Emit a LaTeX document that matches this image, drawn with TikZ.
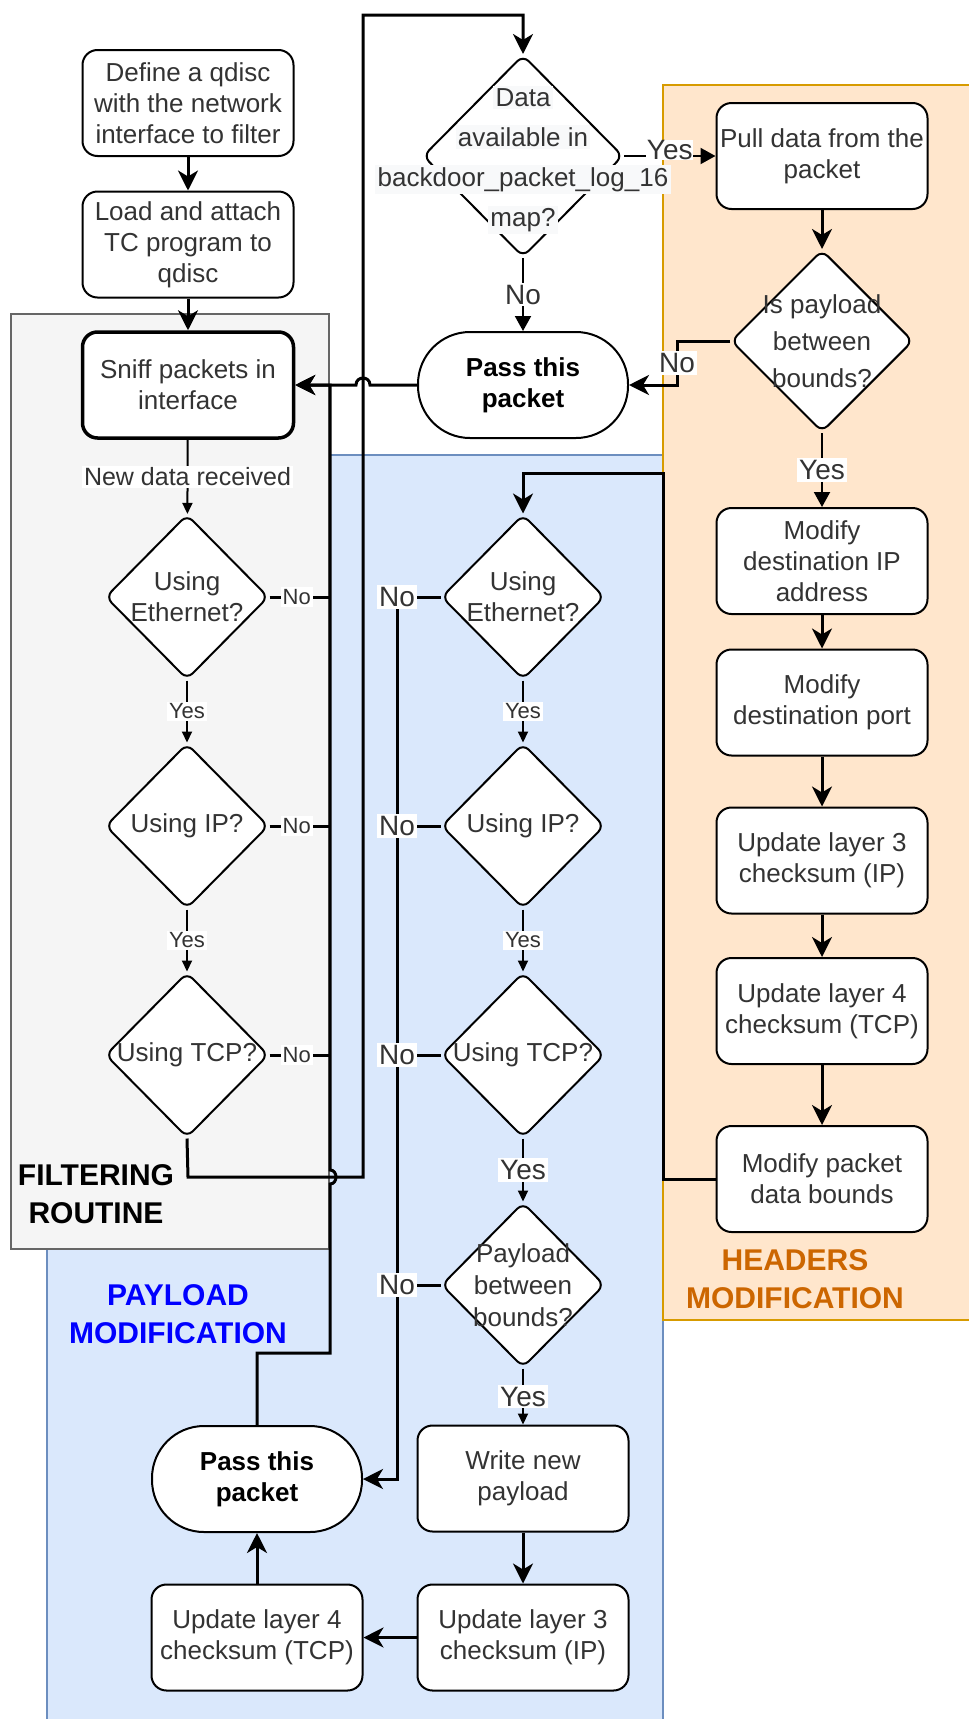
\documentclass[tikz,border=0pt]{standalone}
\usepackage{fontspec}
\setmainfont{Liberation Sans}
\usetikzlibrary{arrows.meta,shapes.geometric}
\definecolor{greyfill}{HTML}{F5F5F5}
\definecolor{greydraw}{HTML}{666666}
\definecolor{bluefill}{HTML}{DAE8FC}
\definecolor{bluedraw}{HTML}{6C8EBF}
\definecolor{orfill}{HTML}{FFE6CC}
\definecolor{ordraw}{HTML}{D79B00}
\definecolor{ortext}{HTML}{CC6600}
\definecolor{bluetext}{HTML}{0000FF}
\definecolor{txt}{HTML}{333333}
\definecolor{lbg}{HTML}{F8F9FA}
\setlength{\fboxsep}{1.2pt}
\begin{document}
\begin{tikzpicture}[x=0.5pt,y=-0.5pt,
  box/.style={draw=black, line width=1pt, rounded corners=7.5pt, fill=white, minimum width=105.5pt, minimum height=53pt, align=center, inner sep=0pt, font=\fontsize{13}{15.5}\selectfont, text=txt},
  term/.style={draw=black, line width=1pt, rounded corners=26pt, fill=white, minimum width=105pt, minimum height=53pt, align=center, inner sep=0pt, font=\fontsize{13}{15.5}\selectfont\bfseries, text=black},
  dia/.style={diamond, draw=black, line width=1pt, rounded corners=4pt, fill=white, inner sep=0pt, minimum width=81.5pt, minimum height=82.5pt},
  dtext/.style={align=center, font=\fontsize{13}{15.5}\selectfont, text=txt, inner sep=0pt},
  lblS/.style={fill=white, inner sep=1pt, font=\fontsize{11}{13}\selectfont, text=txt},
  lblM/.style={fill=white, inner sep=1pt, font=\fontsize{12.5}{14}\selectfont, text=txt},
  lblL/.style={fill=white, inner sep=1pt, font=\fontsize{14}{16}\selectfont, text=txt},
  thickc/.style={draw=black, line width=1.5pt},
  thinc/.style={draw=black, line width=1pt},
  bigarrow/.style={-{Stealth[length=10pt,width=10pt,inset=3pt]}},
  medarrow/.style={-{Triangle[length=7.5pt,width=8pt]}},
  smallarrow/.style={-{Triangle[length=5.5pt,width=5pt]}},
  grouptitle/.style={align=center, font=\fontsize{15}{19}\selectfont\bfseries, inner sep=0pt}
]
\useasboundingbox (0,0) rectangle (969,1719);
\fill[white] (0,0) rectangle (969,1719);

% containers
\draw[fill=bluefill, draw=bluedraw, line width=0.75pt] (47,455) rectangle (663,1740);
\draw[fill=greyfill, draw=greydraw, line width=0.75pt] (11,314) rectangle (329,1249);
\draw[fill=orfill, draw=ordraw, line width=0.75pt] (663,85) rectangle (990,1320);

% left column
\node[box] (define) at (188,103) {Define a qdisc\\with the network\\interface to filter};
\node[box] (load) at (188,244.5) {Load and attach\\TC program to\\qdisc};
\node[box, line width=1.75pt] (sniff) at (188,385) {Sniff packets in\\interface};
\node[dia] (ethL) at (187,597) {};
\node[dtext] at (ethL) {Using\\Ethernet?};
\node[dia] (ipL) at (187,826) {};
\node[dtext] at (ipL) {Using IP?};
\node[dia] (tcpL) at (187,1055) {};
\node[dtext] at (tcpL) {Using TCP?};

% top middle
\node[dia, minimum width=100pt, minimum height=101pt] (data) at (523,156) {};
\node[dtext, font=\fontsize{13}{20}\selectfont] at (523,160) {\colorbox{lbg}{Data}\\\colorbox{lbg}{available in}\\\colorbox{lbg}{backdoor\_packet\_log\_16}\\\colorbox{lbg}{map?}};
\node[term] (passT) at (523,385) {Pass this\\packet};

% right column
\node[box] (pull) at (822,156) {Pull data from the\\packet};
\node[dia, minimum width=91pt, minimum height=91pt] (isp) at (822,341) {};
\node[dtext, font=\fontsize{13}{18.5}\selectfont] at (isp) {Is payload\\between\\bounds?};
\node[box] (modip) at (822,561) {Modify\\destination IP\\address};
\node[box] (modport) at (822,702.5) {Modify\\destination port};
\node[box] (updR3) at (822,860.5) {Update layer 3\\checksum (IP)};
\node[box] (updR4) at (822,1011) {Update layer 4\\checksum (TCP)};
\node[box] (modb) at (822,1179) {Modify packet\\data bounds};

% middle column
\node[dia] (ethM) at (523,597) {};
\node[dtext] at (ethM) {Using\\Ethernet?};
\node[dia] (ipM) at (523,826) {};
\node[dtext] at (ipM) {Using IP?};
\node[dia] (tcpM) at (523,1055) {};
\node[dtext] at (tcpM) {Using TCP?};
\node[dia] (payM) at (523,1285) {};
\node[dtext, font=\fontsize{13}{16}\selectfont] at (payM) {Payload\\between\\bounds?};
\node[box] (write) at (523,1478.5) {Write new\\payload};
\node[box] (updB3) at (523,1637.5) {Update layer 3\\checksum (IP)};
\node[box] (updB4) at (257,1637.5) {Update layer 4\\checksum (TCP)};
\node[term] (passB) at (257,1479) {Pass this\\packet};

% named bend points
\coordinate (jE) at (330,597);
\coordinate (jI) at (330,826);
\coordinate (jT) at (330,1055);
\coordinate (nE) at (397,597);
\coordinate (nI) at (397,826);
\coordinate (nT) at (397,1055);
\coordinate (nP) at (397,1285);

% left flow
\draw[thickc, bigarrow] (define) -- (load);
\draw[thickc, bigarrow] (load) -- (sniff);
\draw[thinc, smallarrow] (sniff) -- node[lblM]{New data received} (ethL);
\draw[thinc, smallarrow] (ethL) -- node[lblS]{Yes} (ipL);
\draw[thinc, smallarrow] (ipL) -- node[lblS]{Yes} (tcpL);
\draw[thickc] (ethL.east) -- node[lblS, pos=0.45]{No} (jE);
\draw[thickc] (ipL.east) -- node[lblS, pos=0.45]{No} (jI);
\draw[thickc] (tcpL.east) -- node[lblS, pos=0.45]{No} (jT);

% return from lower pass to sniff
\draw[thickc, bigarrow] (passB.north) -- (257,1353) -- (330,1353) -- (330,1184) .. controls (338,1184) and (338,1170) .. (330,1170) -- (330,385) -- (sniff.east);
% return from upper pass to sniff (hop over x=363)
\draw[thickc, bigarrow] (passT.west) -- (370,385) .. controls (370,375.7) and (356,375.7) .. (356,385) -- (sniff.east);
% TCP loop to data check
\draw[thickc, bigarrow] (tcpL.south) -- (188,1177) -- (363,1177) -- (363,15) -- (523,15) -- (data.north);

% top flow
\draw[thinc, medarrow] (data.east) -- node[lblL, inner sep=0.3pt, yshift=3pt]{Yes} (pull.west);
\draw[thinc, medarrow] (data.south) -- node[lblL]{No} (passT.north);
\draw[thickc, bigarrow] (pull) -- (isp);
\draw[thickc, bigarrow] (isp.west) -- (677,341) -- node[lblL]{No} (677,385) -- (passT.east);
\draw[thinc, medarrow] (isp.south) -- node[lblL]{Yes} (modip.north);
\draw[thickc, bigarrow] (modip) -- (modport);
\draw[thickc, bigarrow] (modport) -- (updR3);
\draw[thickc, bigarrow] (updR3) -- (updR4);
\draw[thickc, bigarrow] (updR4) -- (modb);
\draw[thickc, bigarrow] (modb.west) -- (663,1179) -- (663,473) -- (523,473) -- (ethM.north);

% middle flow
\draw[thinc, smallarrow] (ethM) -- node[lblS]{Yes} (ipM);
\draw[thinc, smallarrow] (ipM) -- node[lblS]{Yes} (tcpM);
\draw[thinc, smallarrow] (tcpM) -- node[lblL]{Yes} (payM);
\draw[thinc, smallarrow] (payM) -- node[lblL]{Yes} (write);
\draw[thickc, bigarrow] (nE) |- (passB.east);
\draw[thickc] (ethM.west) -- node[lblL, pos=1]{No} (nE);
\draw[thickc] (ipM.west) -- node[lblL, pos=1]{No} (nI);
\draw[thickc] (tcpM.west) -- node[lblL, pos=1]{No} (nT);
\draw[thickc] (payM.west) -- node[lblL, pos=1]{No} (nP);
\draw[thickc, bigarrow] (write) -- (updB3);
\draw[thickc, bigarrow] (updB3) -- (updB4);
\draw[thickc, bigarrow] (updB4) -- (passB);

% group titles
\node[grouptitle, text=black] (tFilter) at (96,1194) {FILTERING\\ROUTINE};
\node[grouptitle, text=bluetext] (tPayload) at (178,1314) {PAYLOAD\\MODIFICATION};
\node[grouptitle, text=ortext] (tHeaders) at (795,1279) {HEADERS\\MODIFICATION};
\end{tikzpicture}
\end{document}
